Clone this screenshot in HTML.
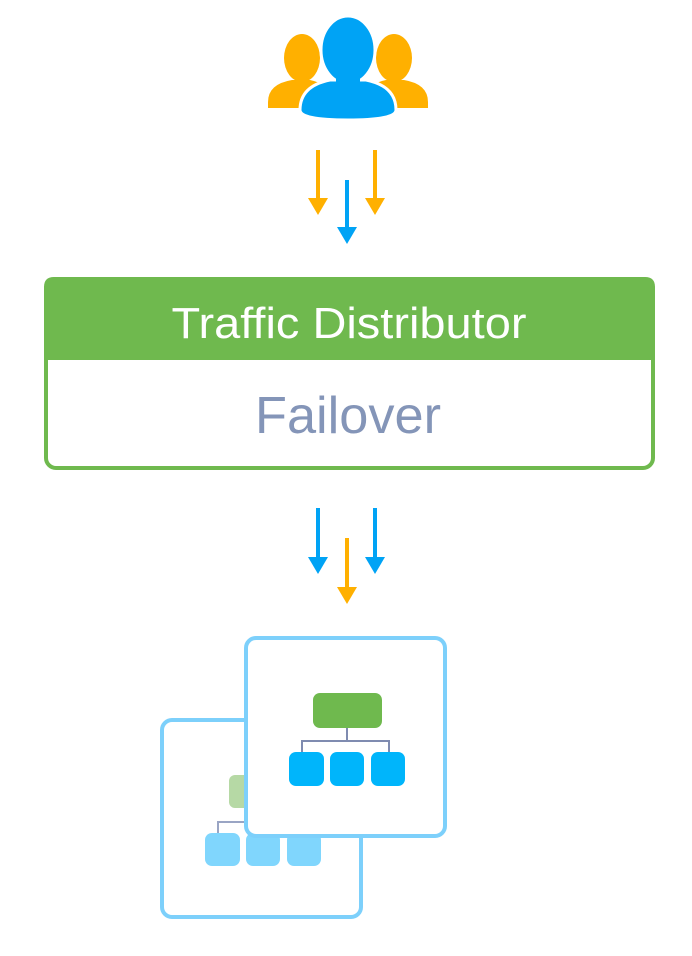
<!DOCTYPE html>
<html><head><style>html,body{margin:0;padding:0;background:#fff}svg{display:block}</style></head>
<body>
<svg width="692" height="956" viewBox="0 0 692 956" xmlns="http://www.w3.org/2000/svg">
<!-- people -->
<g fill="#ffb000">
<ellipse cx="302" cy="58" rx="18" ry="24"/>
<path d="M268 102 Q268 84 292 80 L310 80 Q330 84 332 100 L332 108 L268 108 Z"/>
<ellipse cx="394" cy="58" rx="18" ry="24"/>
<path d="M364 100 Q366 84 386 80 L404 80 Q428 84 428 102 L428 108 L364 108 Z"/>
</g>
<g fill="#00a3f5" stroke="#fff" stroke-width="3">
<ellipse cx="348" cy="50" rx="27" ry="34"/>
<path d="M300 110 Q300 86 330 80 L366 80 Q396 86 396 110 Q396 120 348 120 Q300 120 300 110 Z"/>
</g>
<ellipse cx="348" cy="50" rx="25" ry="32" fill="#00a3f5"/>
<rect x="336" y="72" width="24" height="14" fill="#00a3f5"/>
<!-- arrows -->
<g stroke-width="4" fill="none">
<line x1="318" y1="150" x2="318" y2="205" stroke="#ffb000"/>
<line x1="375" y1="150" x2="375" y2="205" stroke="#ffb000"/>
<line x1="347" y1="180" x2="347" y2="234" stroke="#00a3f5"/>
<line x1="318" y1="508" x2="318" y2="564" stroke="#00a3f5"/>
<line x1="375" y1="508" x2="375" y2="564" stroke="#00a3f5"/>
<line x1="347" y1="538" x2="347" y2="594" stroke="#ffb000"/>
</g>
<g>
<polygon points="308,198 328,198 318,215" fill="#ffb000"/>
<polygon points="365,198 385,198 375,215" fill="#ffb000"/>
<polygon points="337,227 357,227 347,244" fill="#00a3f5"/>
<polygon points="308,557 328,557 318,574" fill="#00a3f5"/>
<polygon points="365,557 385,557 375,574" fill="#00a3f5"/>
<polygon points="337,587 357,587 347,604" fill="#ffb000"/>
</g>
<!-- traffic distributor -->
<rect x="46" y="279" width="607" height="189" rx="10" fill="#fff" stroke="#6fb94e" stroke-width="4"/>
<path d="M44 287 Q44 277 54 277 L645 277 Q655 277 655 287 L655 360 L44 360 Z" fill="#6fb94e"/>
<text x="349" y="338" text-anchor="middle" font-family="Liberation Sans, sans-serif" font-size="44" fill="#fff" textLength="355" lengthAdjust="spacingAndGlyphs">Traffic Distributor</text>
<text x="348" y="433" text-anchor="middle" font-family="Liberation Sans, sans-serif" font-size="52" fill="#8495b8" textLength="186" lengthAdjust="spacingAndGlyphs">Failover</text>
<!-- back box -->
<rect x="162" y="720" width="199" height="197" rx="10" fill="#fff" stroke="#7dd0fb" stroke-width="4"/>
<rect x="229" y="775" width="40" height="33" rx="6" fill="#b6d9a5"/>
<path d="M218 845 V822 H300" stroke="#9aa5c4" stroke-width="2" fill="none"/>
<rect x="205" y="833" width="35" height="33" rx="7" fill="#80d6fd"/>
<rect x="246" y="833" width="34" height="33" rx="7" fill="#80d6fd"/>
<rect x="287" y="833" width="34" height="33" rx="7" fill="#80d6fd"/>
<!-- front box -->
<rect x="246" y="638" width="199" height="198" rx="10" fill="#fff" stroke="#7dd0fb" stroke-width="4"/>
<rect x="313" y="693" width="69" height="35" rx="7" fill="#6fb94e"/>
<path d="M347 728 V741 M302 755 V741 H389 V755" stroke="#7f8bb0" stroke-width="2" fill="none"/>
<rect x="289" y="752" width="35" height="34" rx="7" fill="#00b5fb"/>
<rect x="330" y="752" width="34" height="34" rx="7" fill="#00b5fb"/>
<rect x="371" y="752" width="34" height="34" rx="7" fill="#00b5fb"/>
</svg>
</body></html>
